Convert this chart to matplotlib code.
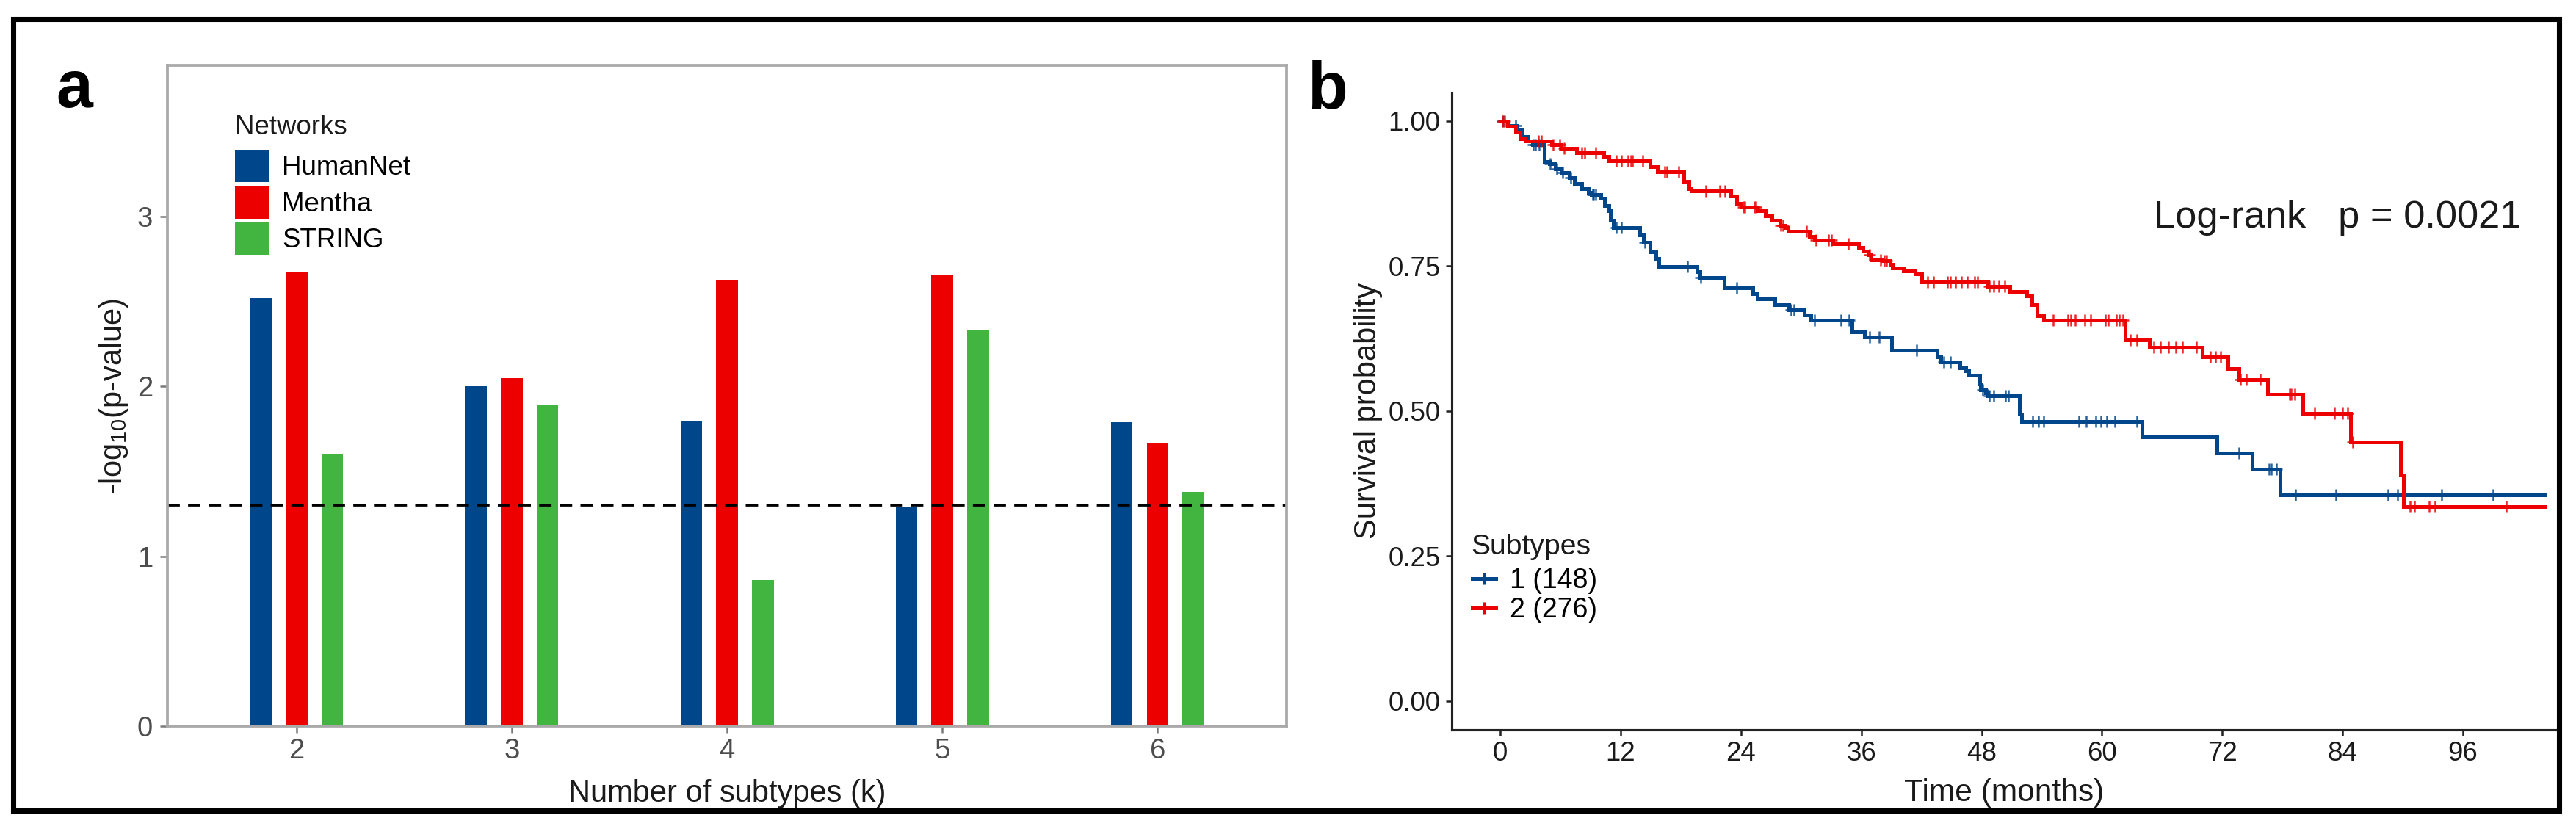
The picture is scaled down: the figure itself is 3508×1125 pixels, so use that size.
import numpy as np
import matplotlib
matplotlib.use("Agg")
import matplotlib.pyplot as plt
from matplotlib.patches import Rectangle
from matplotlib.lines import Line2D

plt.rcParams['font.family'] = ['Liberation Sans', 'DejaVu Sans']
plt.rcParams['mathtext.fontset'] = 'custom'
plt.rcParams['mathtext.rm'] = 'Liberation Sans'
plt.rcParams['mathtext.it'] = 'Liberation Sans:italic'

# ---- panel a data: -log10(p) per number of subtypes ----
k_values = [2, 3, 4, 5, 6]
networks = ['HumanNet', 'Mentha', 'STRING']
humannet = [2.52, 2.00, 1.80, 1.29, 1.79]
mentha = [2.67, 2.05, 2.63, 2.66, 1.67]
string_net = [1.60, 1.89, 0.86, 2.33, 1.38]
p_cut = 0.05

# ---- panel b data: Kaplan-Meier steps (months, survival after step) ----
sub1_label = '1 (148)'
sub1_time = [0, 0.8, 1.6, 2.2, 2.8, 3.2, 4.4, 4.9, 5.5, 6.1, 6.9, 7.4, 8.1, 8.8,
             9.1, 10.0, 10.4, 10.8, 11.0, 11.3, 13.9, 14.3, 14.9, 15.5, 15.8,
             19.6, 19.9, 22.3, 25.2, 25.6, 27.4, 28.8, 30.3, 31.0, 35.1, 36.3,
             39.0, 43.6, 43.9, 45.8, 46.4, 46.7, 47.8, 47.9, 48.4, 48.6, 51.8,
             52.0, 64.0, 71.5, 75.0, 77.8]
sub1_surv = [1.0, 0.993, 0.986, 0.973, 0.966, 0.960, 0.930, 0.926, 0.918, 0.911,
             0.903, 0.892, 0.884, 0.877, 0.873, 0.867, 0.854, 0.846, 0.829, 0.816,
             0.804, 0.791, 0.774, 0.763, 0.749, 0.740, 0.730, 0.713, 0.702, 0.694,
             0.683, 0.675, 0.666, 0.657, 0.637, 0.627, 0.605, 0.594, 0.585, 0.575,
             0.569, 0.562, 0.546, 0.537, 0.531, 0.526, 0.495, 0.482, 0.455, 0.428,
             0.400, 0.355]
sub1_censor = [0.3, 1.5, 3.3, 3.5, 3.9, 5.0, 5.6, 6.2, 7.0, 9.2, 9.3, 9.5, 11.6,
               12.1, 14.4, 18.7, 20.0, 23.6, 29.0, 29.3, 31.3, 34.0, 34.8, 36.8,
               37.8, 41.5, 44.2, 44.9, 48.1, 48.8, 49.2, 50.4, 50.7, 53.1, 53.7,
               54.2, 57.7, 58.4, 59.4, 59.9, 60.5, 61.3, 63.5, 73.7, 76.7, 76.9,
               77.4, 79.3, 83.3, 88.5, 89.5, 93.9, 99.0]
sub1_end = 104.2

sub2_label = '2 (276)'
sub2_time = [0, 0.76, 1.5, 2.0, 2.5, 5.15, 6.1, 7.6, 10.3, 10.8, 14.9, 15.7, 18.3,
             18.8, 19.0, 23.0, 23.6, 24.0, 25.6, 26.4, 27.1, 27.9, 28.4, 28.7,
             30.8, 31.3, 33.2, 35.7, 36.2, 36.7, 37.0, 38.1, 38.9, 39.1, 40.2,
             41.4, 42.0, 48.6, 50.8, 52.5, 53.0, 53.5, 54.2, 62.3, 64.7, 70.0,
             72.6, 73.7, 76.5, 80.0, 84.8, 89.8, 90.1]
sub2_surv = [1.0, 0.991, 0.981, 0.970, 0.966, 0.960, 0.953, 0.945, 0.939, 0.932,
             0.922, 0.913, 0.896, 0.884, 0.880, 0.871, 0.858, 0.852, 0.846, 0.837,
             0.829, 0.820, 0.816, 0.810, 0.801, 0.795, 0.789, 0.782, 0.776, 0.770,
             0.761, 0.759, 0.753, 0.747, 0.742, 0.736, 0.723, 0.715, 0.706, 0.698,
             0.683, 0.664, 0.657, 0.623, 0.610, 0.594, 0.573, 0.554, 0.529, 0.496,
             0.447, 0.390, 0.335]
sub2_censor = [0.2, 0.4, 3.8, 4.1, 5.3, 5.9, 6.4, 8.1, 8.4, 9.5, 11.6, 12.1, 12.7,
               13.0, 13.2, 14.2, 16.4, 16.6, 17.8, 20.5, 21.9, 22.4, 24.2, 24.4,
               25.3, 25.5, 28.0, 28.2, 30.5, 31.5, 32.7, 33.0, 34.7, 36.8, 37.9,
               38.3, 38.5, 42.6, 43.2, 44.6, 44.9, 45.4, 46.0, 46.6, 47.3, 47.6,
               48.8, 49.2, 49.7, 50.3, 55.1, 56.6, 56.9, 57.3, 58.3, 58.9, 60.3,
               60.6, 61.4, 61.7, 62.1, 62.8, 63.5, 65.2, 65.8, 66.6, 67.4, 68.0,
               69.4, 70.8, 71.3, 71.8, 73.8, 74.4, 75.8, 78.7, 78.9, 79.2, 81.2,
               83.2, 84.0, 84.5, 85.0, 90.7, 91.2, 92.6, 93.2, 100.3]
sub2_end = 104.2

pval_text = 'Log-rank   p = 0.0021'
time_ticks = [0, 12, 24, 36, 48, 60, 72, 84, 96]
surv_ticks = [0.00, 0.25, 0.50, 0.75, 1.00]

# ---- layout (pixels of the 3508x1125 output) ----
W, H = 3508, 1125
fig = plt.figure(figsize=(W / 300, H / 300), dpi=300)


def fx(px):
    return px / W


def fy(py):
    return 1 - py / H


# outer frame
fig.patches.append(Rectangle((fx(17.5), fy(1103.5)), fx(3485) - fx(17.5),
                             fy(25.5) - fy(1103.5), fill=False, ec='black',
                             lw=1.7, transform=fig.transFigure, zorder=10))

# ================= panel a =================
ax1 = fig.add_axes([fx(228), fy(989), fx(1752) - fx(228), fy(89) - fy(989)])
colors_a = ['#00468B', '#ED0000', '#42B540']
for i, (name, vals) in enumerate(zip(networks, [humannet, mentha, string_net])):
    ax1.bar(np.array(k_values) + (i - 1) / 6, vals, width=0.1,
            color=colors_a[i], label=name, linewidth=0)
ax1.axhline(-np.log10(p_cut), color='black', lw=0.9, ls=(0, (4.5, 3)))
ax1.set_xlim(1.4, 6.6)
ax1.set_ylim(0, 3.89)
ax1.set_xticks(k_values)
ax1.set_yticks([0, 1, 2, 3])
for sp in ax1.spines.values():
    sp.set_color('#A9A9A9')
    sp.set_linewidth(0.9)
ax1.tick_params(colors='#7A7A7A', labelcolor='#4D4D4D', labelsize=9.2,
                length=2.4, width=0.6)
ax1.tick_params(axis='y', pad=2.4)
ax1.tick_params(axis='x', pad=1.4)
ax1.set_xlabel('Number of subtypes (k)', fontsize=10, color='#1A1A1A')
ax1.set_ylabel(r'-log$_{\mathrm{10}}$(p-value)', fontsize=10, color='#1A1A1A')
ax1.xaxis.set_label_coords(0.5, -0.102)
ax1.xaxis.label.set_va('center')
ax1.yaxis.set_label_coords(-0.048, 0.5)
ax1.yaxis.label.set_va('center')
fig.text(fx(320), fy(183), 'Networks', fontsize=8.8, va='baseline',
         color='#1A1A1A')
ax1.legend(loc='upper left', bbox_to_anchor=(fx(320), fy(204)),
           bbox_transform=fig.transFigure, frameon=False, fontsize=8.8,
           handlelength=1.25, handleheight=1.47, handletextpad=0.5,
           labelspacing=0.15, borderpad=0, borderaxespad=0)

# ================= panel b =================
ax2 = fig.add_axes([fx(1977), fy(994), fx(3481) - fx(1977), fy(125.5) - fy(994)])
colors_b = ['#00468B', '#ED0000']
groups = [(sub1_label, sub1_time, sub1_surv, sub1_censor, sub1_end),
          (sub2_label, sub2_time, sub2_surv, sub2_censor, sub2_end)]
handles = []
for (lab, t, s, cen, t_end), col in zip(groups, colors_b):
    t = np.asarray(t)
    s = np.asarray(s)
    ax2.step(np.append(t, t_end), np.append(s, s[-1]), where='post',
             color=col, lw=1.2, solid_joinstyle='miter')
    cen = np.asarray(cen)
    cs = s[np.searchsorted(t, cen, side='right') - 1]
    ax2.plot(cen, cs, ls='none', marker='+', ms=3.8, mew=0.6, color=col,
             alpha=0.85)
    handles.append(Line2D([], [], color=col, lw=1.2, marker='+', ms=3.8,
                          mew=0.8, label=lab))

ax2.set_xlim(-4.84, 105.3)
ax2.set_ylim(-0.05, 1.05)
ax2.set_xticks(time_ticks)
ax2.set_yticks(surv_ticks)
ax2.set_yticklabels(['%.2f' % v for v in surv_ticks])
for side in ['top', 'right']:
    ax2.spines[side].set_visible(False)
for side in ['left', 'bottom']:
    ax2.spines[side].set_color('#222222')
    ax2.spines[side].set_linewidth(0.75)
ax2.tick_params(colors='#222222', labelcolor='#1A1A1A', labelsize=8.8,
                length=2.0, width=0.6, pad=1.7)
ax2.set_xlabel('Time (months)', fontsize=10.2, color='#1A1A1A')
ax2.set_ylabel('Survival probability', fontsize=10, color='#1A1A1A')
ax2.xaxis.set_label_coords(0.5, -0.099)
ax2.xaxis.label.set_va('center')
ax2.yaxis.set_label_coords(-0.0758, 0.5)
ax2.yaxis.label.set_va('center')
ax2.text(0.802, 0.7876, pval_text, transform=ax2.transAxes, fontsize=12.6,
         ha='center', va='baseline', color='#1A1A1A')
fig.text(fx(2003), fy(755), 'Subtypes', fontsize=9.4, va='baseline',
         color='#1A1A1A')
ax2.legend(handles=handles, loc='upper left',
           bbox_to_anchor=(fx(2005), fy(773)), bbox_transform=fig.transFigure,
           frameon=False, fontsize=9, handlelength=0.85,
           handletextpad=0.5, labelspacing=0.1, borderpad=0, borderaxespad=0,
           numpoints=1)

# panel letters
fig.text(fx(76), fy(146), 'a', fontsize=21.5, fontweight='bold', va='baseline')
fig.text(fx(1780), fy(148), 'b', fontsize=21.5, fontweight='bold', va='baseline')

fig.savefig('out.png', dpi=300, facecolor='white')
